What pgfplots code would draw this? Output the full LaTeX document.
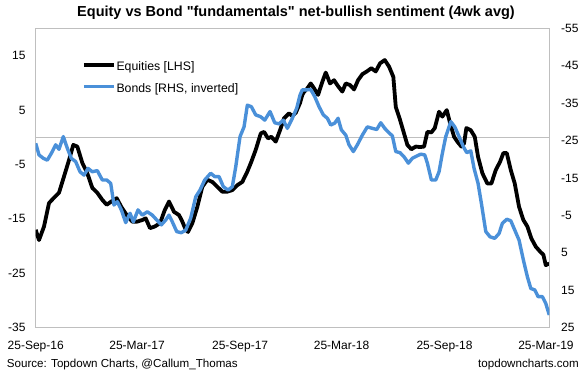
\documentclass[border=0pt]{standalone}
\usepackage{fontspec}
\setmainfont{Liberation Sans}
\usepackage{pgfplots}
\pgfplotsset{compat=1.18}
\usepackage{pgfplotstable}
\definecolor{bondblue}{HTML}{4A90D9}
\definecolor{framegray}{HTML}{BFBFBF}
\newcommand\dq{\XeTeXglyph\XeTeXcharglyph34\relax}

% x = weeks since 25-Sep-16, y = net-bullish sentiment (LHS)
\pgfplotstableread{
w L
0 -17.0
0.84 -18.9
2.12 -16.4
3.39 -12.1
4.67 -11.1
5.94 -10.2
7.22 -7.2
8.49 -4.2
9.59 -1.4
10.61 -1.7
11.89 -4.7
13.16 -6.6
14.44 -9.3
15.71 -10.2
16.99 -11.5
18.11 -12.4
19.29 -11.8
20.66 -11.2
21.84 -12.8
23.21 -14.3
24.64 -15.5
25.92 -15.5
27.19 -15.2
28.06 -14.9
29.16 -16.7
30.36 -16.4
31.71 -15.8
32.91 -13.4
34.0 -11.8
35.28 -13.7
36.56 -14.3
37.4 -15.5
38.27 -17.0
38.85 -17.4
39.95 -15.8
41.22 -12.8
42.5 -9.1
43.78 -7.8
45.05 -8.2
46.33 -9.1
47.6 -10.0
48.88 -10.0
50.15 -9.7
51.43 -8.8
52.7 -8.2
53.98 -6.3
55.0 -4.5
56.12 -2.3
57.4 0.7
58.24 1.0
59.26 -0.2
60.1 0.1
61.22 -0.8
62.32 1.3
63.34 3.5
64.62 4.4
65.46 3.9
66.33 4.5
67.42 6.3
68.0 7.8
68.5 8.4
69.29 9.0
70.15 9.9
71.0 9.0
72.02 7.8
73.11 10.2
73.98 11.9
75.08 9.9
76.1 10.5
77.12 9.4
78.21 8.4
79.08 9.9
80.18 9.6
81.2 8.8
82.22 10.5
83.32 11.6
84.44 12.1
85.61 12.7
86.73 12.1
87.83 13.6
89.03 14.2
90.13 13.0
91.22 11.1
91.84 5.6
92.93 3.2
93.95 0.7
94.8 -1.4
95.82 -2.2
96.94 -1.7
98.04 -1.8
99.06 -1.7
99.9 1.0
100.92 0.9
101.79 1.7
102.88 4.7
103.72 3.8
104.85 5.0
105.69 2.6
106.71 0.1
107.55 -0.8
108.57 -1.7
109.26 -1.1
109.85 1.7
110.97 1.3
111.99 0.1
112.83 -3.6
113.93 -6.6
115.2 -8.5
116.22 -8.5
117.35 -6.0
118.44 -4.5
119.29 -2.9
120.15 -2.9
121.17 -6.0
122.19 -8.5
123.29 -12.8
124.39 -15.2
125.41 -16.4
126.43 -18.6
127.55 -20.1
128.65 -21.0
129.49 -21.6
130.1 -23.5
131.0 -23.2
}\equity

% x = weeks since 25-Sep-16, y = bond sentiment (RHS, inverted axis)
\pgfplotstableread{
w R
0 -24.3
0.84 -21.2
1.94 -20.3
2.96 -19.8
3.98 -21.6
5.1 -23.9
5.94 -22.7
7.04 -26.1
8.06 -23.0
9.08 -20.3
10.2 -19.4
11.3 -16.7
12.32 -15.8
13.34 -17.6
14.44 -16.7
15.71 -17.0
16.99 -14.5
18.11 -14.5
19.13 -13.6
19.97 -7.8
20.82 -8.7
21.84 -6.5
22.96 -3.1
24.06 -5.6
24.9 -3.3
26.1 -6.5
27.19 -5.1
28.47 -6.0
29.74 -5.1
30.87 -3.8
32.04 -2.5
33.16 -3.8
34.0 -5.1
34.85 -3.3
35.97 -0.7
37.14 -0.4
38.27 -1.1
39.54 -4.3
40.82 -10.0
41.91 -11.8
43.11 -14.5
44.64 -16.3
45.66 -15.4
46.76 -15.4
47.86 -12.7
49.06 -11.8
50.15 -12.7
51.02 -18.0
52.12 -26.1
53.14 -28.7
53.98 -34.5
55.0 -34.1
56.12 -31.9
57.4 -31.4
58.42 -30.5
59.77 -32.8
60.97 -29.8
62.07 -29.5
63.16 -30.5
64.18 -28.3
65.46 -31.0
66.58 -33.7
67.42 -37.2
68.0 -38.6
69.13 -38.6
70.15 -38.7
71.17 -36.8
72.27 -34.1
73.37 -31.9
74.39 -31.0
75.26 -29.2
76.28 -29.7
77.12 -31.0
77.96 -27.9
79.08 -26.5
79.92 -23.9
81.02 -22.1
82.04 -23.9
83.32 -26.5
84.59 -28.7
85.87 -28.3
86.99 -28.0
88.01 -29.8
89.03 -28.3
90.13 -27.1
90.97 -26.3
91.84 -22.1
92.93 -21.8
93.95 -20.7
95.05 -19.0
96.07 -20.3
97.19 -20.9
98.21 -21.4
99.23 -21.2
99.9 -19.0
100.92 -14.5
102.04 -14.5
102.88 -16.7
103.72 -21.6
104.59 -26.1
105.87 -30.1
106.89 -28.7
107.99 -26.1
109.08 -23.4
109.95 -21.8
110.97 -22.3
111.81 -17.6
112.83 -13.6
113.67 -8.3
114.8 -0.7
115.89 0.7
117.09 1.1
118.19 -0.2
119.03 -2.9
120.15 -4.0
121.17 -3.6
122.19 -1.1
123.29 1.6
124.39 6.9
125.41 11.4
126.28 14.5
127.3 14.9
128.14 16.7
129.24 16.7
130.1 18.5
131.0 21.6
}\bonds

\begin{document}
\begin{tikzpicture}
\pgfplotsset{
  basestyle/.style={
    scale only axis, width=513.6bp, height=299.2bp,
    at={(0,0)}, anchor=south west,
    xmin=0, xmax=131,
    axis line style={draw=framegray, line width=0.9bp},
    tick style={draw=none},
    major tick length=0pt,
    ticklabel style={font=\fontsize{12bp}{14bp}\selectfont},
    /pgf/number format/assume math mode=true,
  }
}
\begin{axis}[basestyle,
  ymin=-35, ymax=20, ytick={-35,-25,...,15},
  xtick={0,25.857,52.143,78,104.286,130.143},
  xticklabels={25-Sep-16,25-Mar-17,25-Sep-17,25-Mar-18,25-Sep-18,25-Mar-19},
  xticklabel style={yshift=-10bp},
  yticklabel style={xshift=-6.7bp},
  extra y ticks={0}, extra y tick labels={},
  extra y tick style={grid=major, major grid style={draw=framegray, line width=0.9bp}},
  title={Equity vs Bond \dq fundamentals\dq{} net-bullish sentiment (4wk avg)},
  title style={at={(0.5068,1)}, anchor=base, yshift=5.9bp, inner sep=0pt,
    font=\bfseries\fontsize{14.5bp}{17bp}\selectfont},
]
\addplot[black, line width=3.8bp, line join=round] table[x=w, y=L] {\equity};
\end{axis}
\begin{axis}[basestyle,
  axis x line=none, axis y line*=right, y dir=reverse,
  ymin=-55, ymax=25, ytick={-55,-45,...,25},
  yticklabel style={xshift=8.4bp},
  legend cell align=left,
  legend image code/.code={\draw[#1] (0bp,0.3em) -- (30bp,0.3em);},
  legend style={at={(0.0896,0.8914)}, anchor=north west, draw=none, fill=none,
    inner sep=0pt, row sep=8bp,
    nodes={inner sep=0.8bp, text height=9bp, text depth=3bp,
      font=\fontsize{12.3bp}{14bp}\selectfont}},
]
\addlegendimage{black, line width=3.8bp}
\addlegendentry{Equities [LHS]}
\addplot[bondblue, line width=3.4bp, line join=round] table[x=w, y=R] {\bonds};
\addlegendentry{Bonds [RHS, inverted]}
\end{axis}
\node[anchor=base west, inner sep=0pt, font=\fontsize{11.6bp}{14bp}\selectfont] at (-28.95bp,-39.3bp) {Source: Topdown Charts, @Callum\_Thomas};
\node[anchor=base east, inner sep=0pt, font=\fontsize{11.6bp}{14bp}\selectfont] at (543.3bp,-39.3bp) {topdowncharts.com};
\pgfresetboundingbox
\path (-35.7bp,-43.3bp) rectangle (552.3bp,327.7bp);
\end{tikzpicture}
\end{document}
